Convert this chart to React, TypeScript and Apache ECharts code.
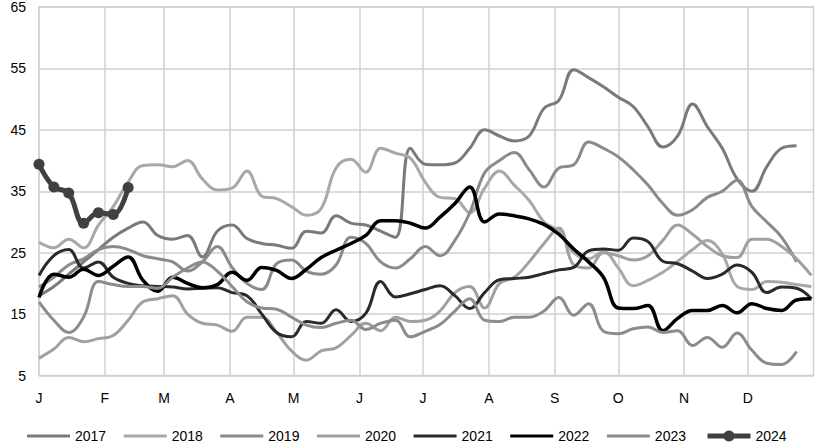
import React, { useEffect, useRef } from "react";
import * as echarts from "echarts";

const monthLabels = ["J", "F", "M", "A", "M", "J", "J", "A", "S", "O", "N", "D"];
const monthStartDays = [0, 31, 59, 90, 120, 151, 181, 212, 243, 273, 304, 334];
const seriesNames = ["2017", "2018", "2019", "2020", "2021", "2022", "2023", "2024"];
const seriesColors = ["#7a7a7a", "#a8a8a8", "#8a8a8a", "#a0a0a0", "#2a2a2a", "#000000", "#8c8c8c", "#404040"];

// weekly values (week 0 = 1 Jan)
const v2017 = [18, 19.5, 21.5, 23.5, 25.5, 27.5, 29, 30, 27.8, 27.2, 27.8, 24.3, 28.5, 29.5, 27.3, 26.5, 26.2, 25.7, 28.5, 28.2, 31, 29.8, 29.5, 28.5, 27.5, 42, 39.4, 39.3, 39.6, 42, 45, 44, 43.2, 44, 48.5, 49.8, 54.8, 53.5, 52, 50.3, 48.8, 45.5, 42.2, 44, 49.2, 45.5, 42, 37, 35, 39, 42, 42.4];
const v2018 = [26.7, 25.8, 27.2, 25.8, 29.5, 32.5, 36.5, 39.2, 39.3, 39, 40, 37, 35.2, 35.5, 38.3, 34.2, 33.8, 32.5, 31.1, 32.2, 38.8, 40.2, 38.1, 42, 41.2, 40.4, 36.5, 34, 33.8, 31.5, 35.5, 38.3, 36, 33.5, 30, 28.5, 25, 24, 25.2, 22.5, 19.6, 20.5, 21.8, 23.6, 25.5, 27, 24.8, 19.5, 19, 20.3, 20.2, 19.8, 19.5];
const v2019 = [19.4, 21, 23, 24, 25.5, 26, 25.5, 24.5, 24, 23.5, 22, 23.5, 26, 22.6, 20, 19, 23.2, 23.8, 22, 21.5, 23, 27.5, 26.5, 23.5, 22.5, 24, 26, 24.5, 27, 31.5, 38, 40, 41.3, 38.5, 35.7, 38.8, 39.3, 43, 42, 40.6, 38.5, 36, 33, 31.1, 32, 34, 35, 36.8, 32.5, 30, 27.5, 23.5];
const v2020 = [7.8, 9.3, 11.2, 10.5, 11, 11.5, 14, 17, 17.5, 18, 15, 13.5, 13.2, 12.2, 14.5, 14.5, 12, 9, 7.5, 9, 9.5, 11.5, 13.5, 12.3, 14.5, 13.8, 14, 15.5, 18.5, 19.5, 16, 20, 21, 23.5, 26.5, 29, 23, 22.5, 25, 24.5, 23.8, 24.5, 27, 29.5, 28, 26, 24.5, 24.2, 27.2, 27.2, 26, 24, 21.3];
const v2021 = [21.3, 24.5, 25.5, 22.5, 23.5, 21, 20, 19.6, 19.5, 19.4, 19.1, 19.2, 19.3, 18.5, 18, 15, 12, 11.3, 13.8, 13.5, 15.7, 13.8, 15.1, 20.3, 17.8, 18.3, 19, 19.6, 18, 15.9, 18.5, 20.6, 20.8, 21, 21.6, 22.2, 22.6, 25.3, 25.6, 25.4, 27.4, 26.8, 23.6, 23.2, 22, 20.8, 21.5, 23, 21.8, 18.5, 19.4, 19.2, 17.5];
const v2022 = [17.7, 21.5, 21, 22.3, 21.3, 22.8, 24.3, 20.5, 18.7, 21, 20, 19.3, 19.8, 21.8, 20.5, 22.6, 22.1, 20.8, 22.3, 24.2, 25.4, 26.5, 27.8, 30.2, 30.2, 29.8, 29, 30.8, 33, 35.7, 30, 31.3, 31, 30.5, 29.6, 28, 25.6, 23.5, 21, 16, 15.9, 16.4, 12.3, 14.3, 15.6, 15.6, 16.4, 15.2, 16.7, 15.9, 15.6, 17.3, 17.5];
const v2023 = [17, 14, 12, 14.5, 20.3, 19.8, 19.5, 19.5, 19.2, 21, 22.5, 23.5, 22, 19.5, 17, 16, 15.8, 14.5, 13.2, 12.8, 13.5, 14, 12.5, 13.5, 14, 11.3, 12.2, 13.3, 15.5, 17.5, 14, 13.8, 14.5, 14.5, 15.5, 17.7, 14.8, 16.7, 12.2, 11.8, 12.6, 12.9, 12, 12.3, 9.9, 11.2, 9.6, 11.9, 9.1, 7, 6.8, 8.9];
const v2024 = [39.4, 35.7, 34.7, 29.8, 31.5, 31.2, 35.6];

const allValues = [v2017, v2018, v2019, v2020, v2021, v2022, v2023, v2024];

export default function App() {
  const ref = useRef<HTMLDivElement>(null);
  useEffect(() => {
    if (!ref.current) return;
    const chart = echarts.init(ref.current, null, { renderer: "svg" });
    const series = allValues.map((vals, idx) => {
      const is2024 = idx === 7;
      const is2022 = idx === 5;
      return {
        name: seriesNames[idx],
        type: "line",
        data: vals.map((v, i) => [i * 7, v]),
        smooth: 0.4,
        showSymbol: is2024,
        symbol: is2024 ? "circle" : "none",
        symbolSize: 11,
        itemStyle: { color: seriesColors[idx] },
        lineStyle: { color: seriesColors[idx], width: is2024 ? 5 : is2022 ? 3.5 : 3 },
        z: 2 + idx,
      };
    });
    const legendText = { fontSize: 14, color: "#000", fontFamily: "Liberation Sans, Arial, sans-serif" };
    chart.setOption({
      animation: false,
      backgroundColor: "#ffffff",
      textStyle: { fontFamily: "Liberation Sans, Arial, sans-serif" },
      grid: { left: 39, right: 8.5, top: 7, bottom: 72.5, show: true, borderColor: "#d0d0d0", borderWidth: 1.5 },
      legend: [
        {
          top: 424,
          left: 22,
          itemWidth: 43,
          itemHeight: 3,
          itemGap: 17.5,
          icon: "rect",
          textStyle: legendText,
          data: seriesNames.slice(0, 7),
        },
        {
          top: 424,
          left: 700,
          itemWidth: 43,
          itemHeight: 14,
          itemGap: 18,
          lineStyle: { width: 5 },
          textStyle: legendText,
          data: seriesNames.slice(7),
        },
      ],
      xAxis: {
        type: "value",
        min: 0,
        max: 365,
        axisLine: { show: false },
        axisTick: { show: false, customValues: monthStartDays },
        splitLine: { show: true, lineStyle: { color: "#d0d0d0", width: 1.5 } },
        axisLabel: {
          customValues: monthStartDays,
          margin: 15,
          fontSize: 14,
          color: "#000",
          formatter: (val: number) => {
            const i = monthStartDays.indexOf(Math.round(val));
            return i >= 0 ? monthLabels[i] : "";
          },
        },
      },
      yAxis: {
        type: "value",
        min: 5,
        max: 65,
        interval: 10,
        axisLine: { show: false },
        axisTick: { show: false },
        splitLine: { show: true, lineStyle: { color: "#d0d0d0", width: 1.5 } },
        axisLabel: { fontSize: 14, color: "#000", margin: 13 },
      },
      series,
    });
    return () => chart.dispose();
  }, []);
  return <div ref={ref} style={{ position: "absolute", left: 0, top: 0, width: 822, height: 448 }} />;
}
